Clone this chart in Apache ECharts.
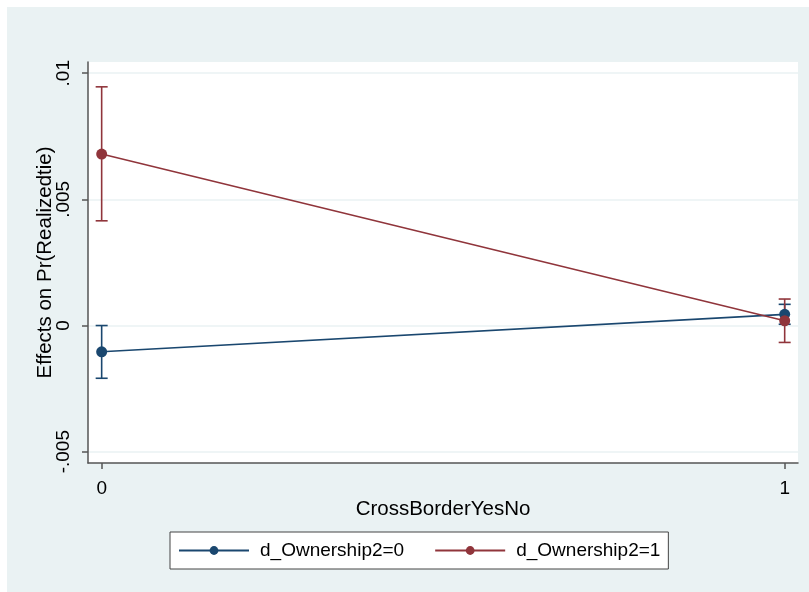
<!DOCTYPE html>
<html>
<head>
<meta charset="utf-8">
<script src="https://cdn.jsdelivr.net/npm/echarts@6/dist/echarts.min.js"></script>
<style>
  html, body { margin: 0; padding: 0; background: #ffffff; }
  #frame { position: absolute; left: 7px; top: 7px; width: 802px; height: 585px; background: #eaf2f3; }
  #chart { position: absolute; left: 0; top: 0; width: 809px; height: 592px; }
</style>
</head>
<body>
<div id="frame"></div>
<div id="chart"></div>
<script>
// CrossBorderYesNo levels on the x axis
const xLevels = [0, 1];
const xTickLabels = ['0', '1'];
const yTicks = [-0.005, 0, 0.005, 0.01];
const yTickLabels = ['-.005', '0', '.005', '.01'];

// Margins for d_Ownership2=0
const own0Name = 'd_Ownership2=0';
const own0Est = [-0.00104, 0.000444];
const own0Low = [-0.00209, 0.00005];
const own0High = [0.0, 0.00084];

// Margins for d_Ownership2=1
const own1Name = 'd_Ownership2=1';
const own1Est = [0.006795, 0.00019];
const own1Low = [0.00415, -0.00067];
const own1High = [0.00946, 0.00105];

const navy = '#1a476f';
const maroon = '#90353b';
const font = 'Liberation Sans, Arial, sans-serif';

function pairs(xs, ys) { return xs.map((x, i) => [x, ys[i]]); }
function ciRows(xs, lo, hi) { return xs.map((x, i) => [x, lo[i], hi[i]]); }

function ciSeries(name, color, rows) {
  return {
    type: 'custom',
    name: name,
    data: rows,
    clip: false,
    z: 2,
    renderItem: function (params, api) {
      const x = api.value(0);
      const a = api.coord([x, api.value(1)]);
      const b = api.coord([x, api.value(2)]);
      const hw = 6;
      const st = { stroke: color, lineWidth: 1.6 };
      return {
        type: 'group',
        children: [
          { type: 'line', shape: { x1: a[0], y1: a[1], x2: b[0], y2: b[1] }, style: st },
          { type: 'line', shape: { x1: a[0] - hw, y1: a[1], x2: a[0] + hw, y2: a[1] }, style: st },
          { type: 'line', shape: { x1: b[0] - hw, y1: b[1], x2: b[0] + hw, y2: b[1] }, style: st }
        ]
      };
    }
  };
}

function lineSeries(name, color, data) {
  return {
    type: 'line',
    name: name,
    data: data,
    symbol: 'circle',
    symbolSize: 11,
    showSymbol: true,
    z: 3,
    lineStyle: { color: color, width: 1.6 },
    itemStyle: { color: color },
    emphasis: { disabled: true },
    animation: false
  };
}

const chart = echarts.init(document.getElementById('chart'), null, { renderer: 'canvas' });
chart.setOption({
  animation: false,
  backgroundColor: 'transparent',
  grid: {
    left: 88, top: 62, right: 11, bottom: 129,
    show: true, backgroundColor: '#ffffff', borderWidth: 0
  },
  xAxis: {
    type: 'value',
    min: -0.02, max: 1.0195,
    name: 'CrossBorderYesNo',
    nameLocation: 'middle',
    nameGap: 36,
    nameMoveOverlap: false,
    nameTextStyle: { fontFamily: font, fontSize: 20.5, color: '#000000', verticalAlign: 'top' },
    axisLine: { show: true, onZero: false, lineStyle: { color: '#555555', width: 1.5 } },
    axisTick: { show: true, length: 6, customValues: xLevels, lineStyle: { color: '#555555', width: 1.5 } },
    axisLabel: {
      customValues: xLevels,
      margin: 16,
      fontFamily: font, fontSize: 19, color: '#000000',
      formatter: function (v) { return xTickLabels[xLevels.indexOf(v)]; }
    },
    splitLine: { show: false }
  },
  yAxis: {
    type: 'value',
    min: -0.005448, max: 0.010444,
    name: 'Effects on Pr(Realizedtie)',
    nameLocation: 'middle',
    nameRotate: 90,
    nameGap: 32,
    nameMoveOverlap: false,
    nameTextStyle: { fontFamily: font, fontSize: 20.5, color: '#000000' },
    axisLine: { show: true, onZero: false, lineStyle: { color: '#555555', width: 1.5 } },
    axisTick: { show: true, length: 6, customValues: yTicks, lineStyle: { color: '#555555', width: 1.5 } },
    axisLabel: {
      customValues: yTicks,
      rotate: 90,
      margin: 15,
      fontFamily: font, fontSize: 19, color: '#000000',
      formatter: function (v) {
        let best = 0;
        yTicks.forEach((t, i) => { if (Math.abs(t - v) < Math.abs(yTicks[best] - v)) best = i; });
        return yTickLabels[best];
      }
    },
    splitLine: { show: true, lineStyle: { color: '#eaf2f3', width: 1.6 } }
  },
  legend: {
    data: [own0Name, own1Name],
    left: 170, top: 532,
    padding: [9, 8, 9, 8],
    itemWidth: 70,
    itemHeight: 11,
    itemGap: 30,
    backgroundColor: '#ffffff',
    borderColor: '#444444',
    borderWidth: 1,
    borderRadius: 0,
    selectedMode: false,
    textStyle: { fontFamily: font, fontSize: 19, color: '#000000', padding: [0, 0, 0, 6] }
  },
  series: [
    ciSeries(own0Name + ' CI', navy, ciRows(xLevels, own0Low, own0High)),
    lineSeries(own0Name, navy, pairs(xLevels, own0Est)),
    ciSeries(own1Name + ' CI', maroon, ciRows(xLevels, own1Low, own1High)),
    lineSeries(own1Name, maroon, pairs(xLevels, own1Est))
  ]
});
</script>
</body>
</html>
